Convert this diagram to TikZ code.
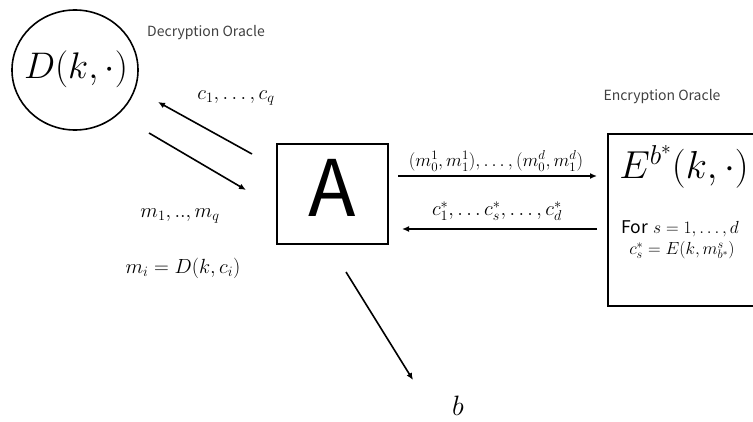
\RequirePackage{fix-cm}
\documentclass[tikz,border=0pt]{standalone}
\usepackage{fontspec}
\newfontfamily\gfont{Noto Sans CJK JP}
\usetikzlibrary{arrows.meta,shapes.geometric}
\begin{document}
\begin{tikzpicture}[x=1pt,y=-1pt,
  conn/.style={-{Latex[length=7pt,width=6pt]}, line width=1.6pt},
  frame/.style={draw, line width=1.6pt, inner sep=0pt},
  lbl/.style={inner sep=0pt, font=\fontsize{20.5}{24}\selectfont},
  small/.style={inner sep=0pt, font=\fontsize{18.5}{22}\selectfont},
  inbox/.style={inner sep=0pt, font=\fontsize{17.5}{20}\selectfont},
  big/.style={inner sep=0pt, font=\fontsize{37}{44}\selectfont},
  caption/.style={inner sep=0pt, text=black!75, font=\gfont\fontsize{14}{16}\selectfont}]
\useasboundingbox (0,0) rectangle (753,422);
% oracles and adversary
\node[frame, ellipse, minimum width=126pt, minimum height=120pt] (D) at (75,70) {};
\node[big] (Dtxt) at (76,69) {$D(k,\cdot)$};
\node[frame, minimum width=111pt, minimum height=100pt] (A) at (332.5,194) {};
\node[inner sep=0pt, anchor=base, font=\gfont\fontsize{78}{78}\selectfont] (Atxt) at (332.5,217) {A};
\node[frame, anchor=north west, minimum width=170pt, minimum height=172pt] (E) at (607,133) {};
\node[big, font=\fontsize{39}{46}\selectfont] (Etxt) at (684,167) {$E^{b^*}(k,\cdot)$};
\node[inbox] (Efor) at (680,229) {{\gfont For} $s=1,\dots,d$};
\node[inbox] (Ecs) at (682,250) {$c_s^*=E(k,m_{b^*}^s)$};
% captions
\node[caption] (Dcap) at (206,33) {Decryption Oracle};
\node[caption] (Ecap) at (662,97) {Encryption Oracle};
% connector end points
\coordinate (q1) at (252,154);
\coordinate (q2) at (158,102);
\coordinate (r1) at (149,133);
\coordinate (r2) at (246,190);
\coordinate (s1) at (398,176);
\coordinate (s2) at (597,176);
\coordinate (t1) at (597,229);
\coordinate (t2) at (402,229);
\coordinate (u1) at (346,272);
\coordinate (u2) at (413,380);
\draw[conn] (q1) -- (q2);
\draw[conn] (r1) -- (r2);
\draw[conn] (s1) -- (s2);
\draw[conn] (t1) -- (t2);
\draw[conn] (u1) -- (u2);
% labels
\node[lbl] (lc) at (236,98) {$c_1,\dots,c_q$};
\node[lbl] (lm) at (180,216) {$m_1,..,m_q$};
\node[lbl] (lmi) at (183,268) {$m_i=D(k,c_i)$};
\node[small] (lpairs) at (496,161) {$(m_0^1,m_1^1),\dots,(m_0^d,m_1^d)$};
\node[lbl] (lcs) at (497,211) {$c_1^*,\dots c_s^*,\dots,c_d^*$};
\node[inner sep=0pt, font=\fontsize{28}{32}\selectfont] (lb) at (458,406) {$b$};
\end{tikzpicture}
\end{document}
